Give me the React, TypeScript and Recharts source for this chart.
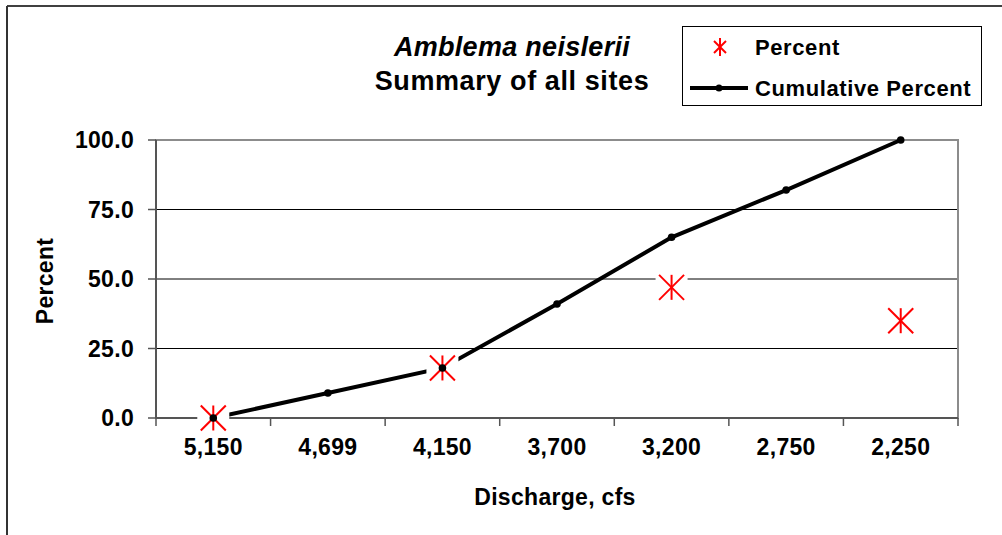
import React from "react";
import { ComposedChart, Line, Scatter, XAxis, YAxis, CartesianGrid, ReferenceArea } from "recharts";

const categories = ["5,150", "4,699", "4,150", "3,700", "3,200", "2,750", "2,250"];
const percent = [0, null, 18, null, 47, null, 35];
const cumulative = [0, 9, 18, 41, 65, 82, 100];
const yTicks = [0, 25, 50, 75, 100];
const seriesNames = ["Percent", "Cumulative Percent"];

const rows = categories.map((c, i) => ({ idx: i, label: c, pct: percent[i], cum: cumulative[i] }));
const pctPoints = rows.filter((r) => r.pct !== null);
// labels sit on whole numbers, tick marks on the halves between categories
const xTicks = categories.flatMap((_, i) => (i === 0 ? [-0.5, 0, 0.5] : [i, i + 0.5]));

const FONT = "'Liberation Sans', Arial, sans-serif";
const txt = { fontFamily: FONT, fontWeight: 700, fill: "#000", letterSpacing: 0.3 };
const FS = 23;
const RED = "#ff0000";

function XTick(props: any) {
  const { x, y, payload } = props;
  const v = payload.value;
  if (Number.isInteger(v)) {
    return <text x={x} y={y + 37} textAnchor="middle" fontSize={FS} {...txt}>{categories[v]}</text>;
  }
  return <line x1={x} x2={x} y1={y} y2={y + 8} stroke="#555" strokeWidth={1.5} />;
}

function YTick(props: any) {
  const { x, y, payload } = props;
  return (
    <text x={x + 1} y={y + 8} textAnchor="end" fontSize={FS} {...txt}>
      {payload.value.toFixed(1)}
    </text>
  );
}

function Star(props: any) {
  const { cx, cy } = props;
  const r = 12.5;
  return (
    <g>
      <rect x={cx - 16} y={cy - 16} width={32} height={32} fill="#fff" />
      <line x1={cx} y1={cy - r} x2={cx} y2={cy + r} stroke={RED} strokeWidth={2} />
      <line x1={cx - r} y1={cy - r} x2={cx + r} y2={cy + r} stroke={RED} strokeWidth={2} />
      <line x1={cx - r} y1={cy + r} x2={cx + r} y2={cy - r} stroke={RED} strokeWidth={2} />
    </g>
  );
}

function YTitle(props: any) {
  const { viewBox } = props;
  const cx = viewBox.x + 53;
  const cy = viewBox.y + viewBox.height / 2 + 2;
  return (
    <text x={cx} y={cy} transform={`rotate(-90 ${cx} ${cy})`} textAnchor="middle" fontSize={FS} {...txt}>
      Percent
    </text>
  );
}

function XTitle(props: any) {
  const { viewBox } = props;
  return (
    <text x={viewBox.x + viewBox.width / 2 - 2} y={viewBox.y + 87} textAnchor="middle" fontSize={FS} {...txt}>
      Discharge, cfs
    </text>
  );
}

export default function App() {
  return (
    <div style={{ position: "absolute", left: 0, top: 0, width: 1002, height: 535, background: "#fff" }}>
      <ComposedChart width={1002} height={535} data={rows} margin={{ top: 140, right: 44, left: 0, bottom: 0 }}>
        <CartesianGrid horizontal vertical={false} stroke="#000" strokeWidth={1} />
        <ReferenceArea x1={-0.5} x2={6.5} y1={0} y2={100} fill="none" stroke="#8c8c8c" strokeWidth={2} />
        <XAxis
          dataKey="idx"
          type="number"
          domain={[-0.5, 6.5]}
          ticks={xTicks}
          interval={0}
          height={117}
          tickSize={0}
          tickMargin={0}
          tickLine={false}
          axisLine={{ stroke: "#555", strokeWidth: 2 }}
          tick={<XTick />}
          label={<XTitle />}
        />
        <YAxis
          type="number"
          domain={[0, 100]}
          ticks={yTicks}
          width={156}
          tickSize={8}
          tickMargin={15}
          tickLine={{ stroke: "#555", strokeWidth: 1.5 }}
          axisLine={{ stroke: "#555", strokeWidth: 2 }}
          tick={<YTick />}
          label={<YTitle />}
        />
        <Line dataKey="cum" name={seriesNames[1]} stroke="#000" strokeWidth={4} dot={false} isAnimationActive={false} />
        <Scatter data={pctPoints} dataKey="pct" name={seriesNames[0]} shape={<Star />} isAnimationActive={false} />
        <Line
          dataKey="cum"
          legendType="none"
          stroke="none"
          dot={{ r: 3.8, fill: "#000", stroke: "none" }}
          activeDot={false}
          isAnimationActive={false}
        />
      </ComposedChart>
      <svg width={1002} height={535} style={{ position: "absolute", left: 0, top: 0, pointerEvents: "none" }}>
        <line x1={7} y1={6} x2={1002} y2={6} stroke="#000" strokeWidth={1.5} />
        <line x1={7} y1={6} x2={7} y2={535} stroke="#333" strokeWidth={2} />
        <text x={512} y={56} textAnchor="middle" fontSize={27} fontStyle="italic" {...txt}>Amblema neislerii</text>
        <text x={512} y={90} textAnchor="middle" fontSize={27} {...txt} letterSpacing={0.6}>Summary of all sites</text>
        <rect x={682.5} y={26.5} width={299} height={79} fill="#fff" stroke="#000" strokeWidth={1} />
        <g>
          <line x1={720} y1={38} x2={720} y2={56} stroke={RED} strokeWidth={2} />
          <line x1={714} y1={41} x2={726} y2={53} stroke={RED} strokeWidth={2} />
          <line x1={714} y1={53} x2={726} y2={41} stroke={RED} strokeWidth={2} />
          <text x={755} y={55} fontSize={22} {...txt} letterSpacing={0.6}>{seriesNames[0]}</text>
        </g>
        <g>
          <line x1={690} y1={88} x2={748} y2={88} stroke="#000" strokeWidth={4} />
          <circle cx={719} cy={88} r={3.5} fill="#000" />
          <text x={755} y={96} fontSize={22} {...txt} letterSpacing={0.6}>{seriesNames[1]}</text>
        </g>
      </svg>
    </div>
  );
}
